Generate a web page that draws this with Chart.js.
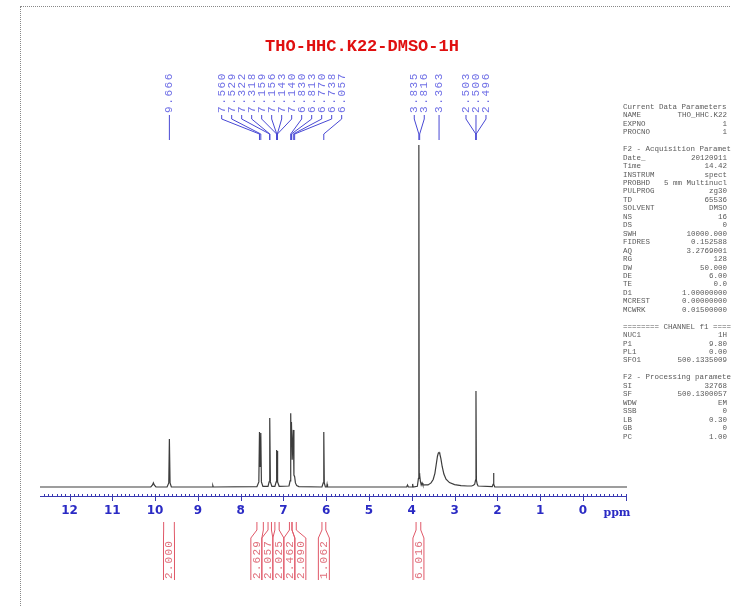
<!DOCTYPE html>
<html>
<head>
<meta charset="utf-8">
<script src="https://cdn.jsdelivr.net/npm/chart.js@4"></script>
<style>
  body { margin: 0; background: #fff; }
  #wrap { position: relative; width: 731px; height: 606px; overflow: hidden; }
  #frame { position: absolute; left: 20px; top: 6px; width: 760px; height: 640px; border: 1px dotted #888; }
  canvas { position: absolute; left: 0; top: 0; }
</style>
</head>
<body>
<div id="wrap">
  <div id="frame"></div>
  <canvas id="nmr" width="731" height="606"></canvas>
</div>
<script>
// spectrum trace (chemical shift in ppm, relative intensity)
const ppm = [
	12.69, 10.10, 10.06, 10.04, 10.02, 9.98,
	9.72, 9.68, 9.666, 9.65, 9.62,
	8.66, 8.65, 8.64,
	7.62, 7.575, 7.560, 7.545, 7.529, 7.515, 7.48,
	7.36, 7.335, 7.322, 7.320, 7.318, 7.305, 7.27,
	7.20, 7.17, 7.159, 7.150, 7.143, 7.13, 7.10,
	6.87, 6.845, 6.830, 6.822, 6.813, 6.795, 6.770, 6.755, 6.738, 6.72, 6.69, 6.64,
	6.10, 6.07, 6.057, 6.045, 6.02,
	5.99, 5.98, 5.97,
	4.12, 4.10, 4.08,
	3.99, 3.98, 3.97,
	3.87, 3.845, 3.835, 3.826, 3.816, 3.80, 3.78, 3.76, 3.74, 3.70,
	3.62, 3.55, 3.50, 3.46, 3.43, 3.40, 3.38, 3.363, 3.345, 3.32, 3.29, 3.25, 3.20, 3.12, 3.00, 2.85, 2.70, 2.60, 2.56,
	2.53, 2.51, 2.500, 2.49, 2.47, 2.45,
	2.12, 2.10, 2.090, 2.08, 2.06,
	-1.03
];
const intensity = [
	0, 0, 0.6, 1.2, 0.6, 0,
	0, 1.2, 14.0, 1.2, 0,
	0, 0.4, 0,
	0.1, 1.5, 16.1, 6, 15.8, 1.5, 0.2,
	0.2, 1.5, 20.2, 16, 19.9, 1.5, 0.2,
	0.2, 1.5, 10.8, 8, 10.5, 1.5, 0.2,
	0.3, 1.8, 21.6, 12, 19.0, 8, 16.7, 3.5, 3.0, 1.2, 0.4, 0.1,
	0, 1.2, 16.1, 1.2, 0,
	0, 0.8, 0,
	0, 0.6, 0,
	0, 0.9, 0,
	0.2, 2.5, 100, 4, 3.5, 1.8, 0.6, 1.2, 0.5, 0.6,
	0.6, 1.2, 2.2, 4, 6.5, 9, 9.9, 10.1, 9.7, 8.3, 6, 3.8, 2.3, 1.3, 0.7, 0.4, 0.3, 0.3, 0.5,
	0.8, 2.0, 28.1, 2.0, 0.8, 0.3,
	0.1, 0.8, 4.1, 0.8, 0,
	0
];

// peak picking labels
const peakShifts = [9.666, 7.560, 7.529, 7.322, 7.318, 7.159, 7.156, 7.143, 7.140,
	6.830, 6.813, 6.770, 6.738, 6.057, 3.835, 3.816, 3.363, 2.503, 2.500, 2.496];

// integrals
const integralValues = [2.000, 2.629, 2.057, 2.025, 2.462, 2.090, 1.062, 6.016];
const integralFrom = [9.80, 7.62, 7.36, 7.20, 6.86, 6.80, 6.10, 3.90];
const integralTo = [9.55, 7.47, 7.28, 7.10, 6.80, 6.70, 6.01, 3.79];

// x axis
const ppmMin = -1.03;
const ppmMax = 12.69;
const axisLabels = [12, 11, 10, 9, 8, 7, 6, 5, 4, 3, 2, 1, 0];

const title = 'THO-HHC.K22-DMSO-1H';

// acquisition / processing parameters panel
const paramNames = ['Current Data Parameters', 'NAME', 'EXPNO', 'PROCNO', '',
	'F2 - Acquisition Parameters', 'Date_', 'Time', 'INSTRUM', 'PROBHD', 'PULPROG', 'TD',
	'SOLVENT', 'NS', 'DS', 'SWH', 'FIDRES', 'AQ', 'RG', 'DW', 'DE', 'TE', 'D1', 'MCREST', 'MCWRK', '',
	'======== CHANNEL f1 ========', 'NUC1', 'P1', 'PL1', 'SFO1', '',
	'F2 - Processing parameters', 'SI', 'SF', 'WDW', 'SSB', 'LB', 'GB', 'PC'];
const paramValues = ['', 'THO_HHC.K22', '1', '1', '',
	'', '20120911', '14.42', 'spect', '5 mm Multinucl', 'zg30', '65536',
	'DMSO', '16', '0', '10000.000', '0.152588', '3.2769001', '128', '50.000', '6.00', '0.0', '1.00000000', '0.00000000', '0.01500000', '',
	'', '1H', '9.80', '0.00', '500.1335009', '',
	'', '32768', '500.1300057', 'EM', '0', '0.30', '0', '1.00'];

const spectrum = ppm.map((p, i) => ({ x: p, y: intensity[i] }));

// spread label centres so that neighbours keep at least `gap` px apart
function spread(xs, gap) {
	let groups = xs.map((x) => ({ sum: x, n: 1 }));
	let merged = true;
	while (merged) {
		merged = false;
		for (let i = 0; i < groups.length - 1; i++) {
			const a = groups[i], b = groups[i + 1];
			const aEnd = a.sum / a.n + (a.n - 1) * gap / 2;
			const bStart = b.sum / b.n - (b.n - 1) * gap / 2;
			if (bStart - aEnd < gap) {
				groups.splice(i, 2, { sum: a.sum + b.sum, n: a.n + b.n });
				merged = true;
				break;
			}
		}
	}
	const out = [];
	groups.forEach((g) => {
		const start = g.sum / g.n - (g.n - 1) * gap / 2;
		for (let k = 0; k < g.n; k++) out.push(start + k * gap);
	});
	return out;
}

const decorations = {
	id: 'decorations',
	afterDraw(chart) {
		const ctx = chart.ctx;
		const xs = chart.scales.x;
		const area = chart.chartArea;
		const axisY = area.bottom;
		ctx.save();

		// title
		ctx.fillStyle = '#e01010';
		ctx.font = 'bold 17px "Liberation Mono"';
		ctx.textAlign = 'center';
		ctx.textBaseline = 'middle';
		ctx.fillText(title, 362, 47);

		// axis line and ticks
		ctx.strokeStyle = '#3a3ab0';
		ctx.lineWidth = 1;
		ctx.beginPath();
		ctx.moveTo(area.left, axisY + 0.5);
		ctx.lineTo(area.right, axisY + 0.5);
		for (let i = Math.ceil(ppmMin * 10); i <= Math.floor(ppmMax * 10); i++) {
			const px = Math.round(xs.getPixelForValue(i / 10)) + 0.5;
			const major = i % 10 === 0;
			ctx.moveTo(px, axisY - 2);
			ctx.lineTo(px, axisY + (major ? 5 : 1));
		}
		ctx.stroke();

		ctx.fillStyle = '#2a2ac4';
		ctx.font = 'bold 12px "DejaVu Sans"';
		ctx.textAlign = 'center';
		ctx.textBaseline = 'middle';
		axisLabels.forEach((v) => ctx.fillText(String(v), xs.getPixelForValue(v), axisY + 15));
		ctx.font = 'bold 11px "DejaVu Serif"';
		ctx.fillText('ppm', 617, axisY + 17);

		// peak labels
		const peakX = peakShifts.map((p) => xs.getPixelForValue(p));
		const labelX = spread(peakX, 10);
		ctx.strokeStyle = '#4848d4';
		ctx.beginPath();
		peakX.forEach((px, i) => {
			const lx = labelX[i];
			ctx.moveTo(lx, 115);
			ctx.lineTo(lx, 119);
			ctx.lineTo(px, 134);
			ctx.lineTo(px, 140);
		});
		ctx.stroke();
		ctx.fillStyle = '#7070e6';
		ctx.font = '11px "Liberation Mono"';
		ctx.letterSpacing = '1.6px';
		ctx.textAlign = 'left';
		ctx.textBaseline = 'middle';
		peakShifts.forEach((p, i) => {
			ctx.save();
			ctx.translate(labelX[i], 113);
			ctx.rotate(-Math.PI / 2);
			ctx.fillText(p.toFixed(3), 0, 0);
			ctx.restore();
		});

		// integrals
		const half = 5.5;
		const centres = spread(integralFrom.map((a, i) =>
			(xs.getPixelForValue(a) + xs.getPixelForValue(integralTo[i])) / 2), half * 2);
		ctx.strokeStyle = '#e05868';
		ctx.beginPath();
		integralValues.forEach((v, i) => {
			const xa = xs.getPixelForValue(integralFrom[i]);
			const xb = xs.getPixelForValue(integralTo[i]);
			const c = centres[i];
			[[xa, c - half], [xb, c + half]].forEach(([top, box]) => {
				ctx.moveTo(top, 522);
				ctx.lineTo(top, 530);
				ctx.lineTo(box, 538);
				ctx.lineTo(box, 580);
			});
		});
		ctx.stroke();
		ctx.fillStyle = '#e0707c';
		ctx.font = '11px "Liberation Mono"';
		ctx.letterSpacing = '1.2px';
		integralValues.forEach((v, i) => {
			ctx.save();
			ctx.translate(centres[i] + 0.5, 579);
			ctx.rotate(-Math.PI / 2);
			ctx.fillText(v.toFixed(3), 0, 0);
			ctx.restore();
		});
		ctx.letterSpacing = '0px';

		// parameter panel
		ctx.fillStyle = '#5a5a5a';
		ctx.font = '7.5px "Liberation Mono"';
		paramNames.forEach((name, i) => {
			const y = 107 + i * 8.45;
			ctx.textAlign = 'left';
			ctx.fillText(name, 623, y);
			ctx.textAlign = 'right';
			ctx.fillText(paramValues[i], 727, y);
		});

		ctx.restore();
	},
};

const config = {
	type: 'line',
	data: {
		datasets: [
			{
				data: spectrum,
				borderColor: '#3c3c3c',
				borderWidth: 1.2,
				pointRadius: 0,
				tension: 0,
				clip: false,
			},
		],
	},
	options: {
		responsive: false,
		animation: false,
		layout: {
			padding: { left: 40, right: 104, top: 145, bottom: 110 },
		},
		plugins: {
			legend: false,
			tooltip: { enabled: false },
		},
		scales: {
			x: {
				type: 'linear',
				min: ppmMin,
				max: ppmMax,
				reverse: true,
				display: false,
			},
			y: {
				min: -2.63,
				max: 100,
				display: false,
			},
		},
	},
	plugins: [decorations],
};

const context = document.getElementById('nmr').getContext('2d');
const chart = new Chart(context, config);
</script>
</body>
</html>
